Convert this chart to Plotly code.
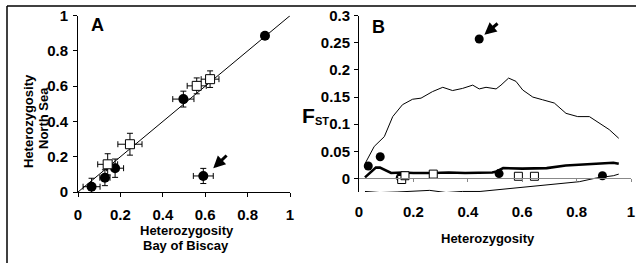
import plotly.graph_objects as go

# ---------------- Panel A data ----------------
a_circle_x = [0.064, 0.127, 0.175, 0.497, 0.591, 0.882]
a_circle_y = [0.030, 0.081, 0.135, 0.527, 0.091, 0.886]
a_circle_xerr = [0.040, 0.024, 0.040, 0.050, 0.047, 0.012]
a_circle_yerr = [0.048, 0.045, 0.052, 0.045, 0.043, 0.012]

a_square_x = [0.140, 0.245, 0.560, 0.623]
a_square_y = [0.157, 0.271, 0.602, 0.640]
a_square_xerr = [0.047, 0.057, 0.045, 0.042]
a_square_yerr = [0.060, 0.062, 0.045, 0.047]

diag_x = [0, 1]
diag_y = [0, 1]

# ---------------- Panel B data ----------------
upper_x = [0.023, 0.056, 0.093, 0.124, 0.160, 0.197, 0.228, 0.270, 0.308, 0.344,
           0.381, 0.418, 0.442, 0.467, 0.504, 0.522, 0.550, 0.577, 0.602, 0.639,
           0.675, 0.718, 0.761, 0.804, 0.847, 0.883, 0.920, 0.955]
upper_y = [0.028, 0.059, 0.077, 0.114, 0.136, 0.146, 0.148, 0.160, 0.168, 0.162,
           0.166, 0.172, 0.165, 0.168, 0.165, 0.172, 0.185, 0.179, 0.163, 0.150,
           0.145, 0.139, 0.120, 0.114, 0.114, 0.102, 0.090, 0.074]

median_x = [0.022, 0.040, 0.062, 0.077, 0.090, 0.118, 0.160, 0.200, 0.270, 0.330,
            0.390, 0.445, 0.490, 0.506, 0.530, 0.600, 0.690, 0.760, 0.850, 0.935, 0.955]
median_y = [0.002, 0.010, 0.020, 0.020, 0.017, 0.010, 0.011, 0.010, 0.010, 0.011,
            0.010, 0.011, 0.011, 0.013, 0.019, 0.018, 0.019, 0.024, 0.027, 0.029, 0.027]

lower_x = [0.022, 0.077, 0.140, 0.200, 0.260, 0.320, 0.380, 0.445, 0.506, 0.567,
           0.630, 0.690, 0.750, 0.810, 0.874, 0.935, 0.955]
lower_y = [-0.024, -0.026, -0.025, -0.024, -0.022, -0.026, -0.024, -0.024, -0.021, -0.018,
           -0.015, -0.012, -0.010, -0.006, 0.001, 0.005, 0.008]

b_circle_x = [0.034, 0.078, 0.152, 0.442, 0.515, 0.895]
b_circle_y = [0.023, 0.040, 0.002, 0.257, 0.009, 0.005]

b_square_x = [0.157, 0.169, 0.273, 0.586, 0.645]
b_square_y = [-0.002, 0.005, 0.008, 0.004, 0.004]

tick_a = [0, 0.2, 0.4, 0.6, 0.8, 1]
tick_a_text = ["0", "0.2", "0.4", "0.6", "0.8", "1"]
tick_b_y = [0, 0.05, 0.1, 0.15, 0.2, 0.25, 0.3]
tick_b_y_text = ["0", "0.05", "0.1", "0.15", "0.2", "0.25", "0.3"]

FONT = "Liberation Sans, Arial, sans-serif"
W, H = 636, 263

def px_x(p):
    return p / W

def px_y(p):
    return 1 - p / H

fig = go.Figure()

# Panel A
fig.add_trace(go.Scatter(x=diag_x, y=diag_y, mode="lines",
                         line=dict(color="black", width=1), xaxis="x", yaxis="y",
                         showlegend=False, hoverinfo="skip"))
fig.add_trace(go.Scatter(x=a_circle_x, y=a_circle_y, mode="markers",
                         marker=dict(symbol="circle", size=10, color="black"),
                         error_x=dict(type="data", array=a_circle_xerr, color="black", thickness=1, width=3),
                         error_y=dict(type="data", array=a_circle_yerr, color="black", thickness=1, width=3),
                         xaxis="x", yaxis="y", showlegend=False))
fig.add_trace(go.Scatter(x=a_square_x, y=a_square_y, mode="markers",
                         marker=dict(symbol="square", size=9, color="white",
                                     line=dict(color="black", width=1)),
                         error_x=dict(type="data", array=a_square_xerr, color="black", thickness=1, width=3),
                         error_y=dict(type="data", array=a_square_yerr, color="black", thickness=1, width=3),
                         xaxis="x", yaxis="y", showlegend=False))

# Panel B
fig.add_trace(go.Scatter(x=[], y=[], xaxis="x3", yaxis="y2", showlegend=False))
fig.add_trace(go.Scatter(x=upper_x, y=upper_y, mode="lines",
                         line=dict(color="black", width=1), xaxis="x2", yaxis="y2",
                         showlegend=False))
fig.add_trace(go.Scatter(x=lower_x, y=lower_y, mode="lines",
                         line=dict(color="black", width=1), xaxis="x2", yaxis="y2",
                         showlegend=False))
fig.add_trace(go.Scatter(x=median_x, y=median_y, mode="lines",
                         line=dict(color="black", width=2.6), xaxis="x2", yaxis="y2",
                         showlegend=False))
fig.add_trace(go.Scatter(x=b_circle_x, y=b_circle_y, mode="markers",
                         marker=dict(symbol="circle", size=9, color="black"),
                         xaxis="x2", yaxis="y2", showlegend=False))
fig.add_trace(go.Scatter(x=b_square_x, y=b_square_y, mode="markers",
                         marker=dict(symbol="square", size=8, color="white",
                                     line=dict(color="black", width=1)),
                         xaxis="x2", yaxis="y2", showlegend=False))

xa_dom = [px_x(78), px_x(290)]
xb_dom = [px_x(359), px_x(631)]
y_dom = [px_y(192), px_y(15.7)]
yb_range = [-0.025, 0.3]
zero_pos = y_dom[0] + (0 - yb_range[0]) / (yb_range[1] - yb_range[0]) * (y_dom[1] - y_dom[0])

tickfont = dict(family=FONT, size=15, color="black", weight="bold")

axis_common = dict(showgrid=False, zeroline=False, showline=True, linecolor="black",
                   linewidth=1, ticks="outside", ticklen=4, tickcolor="black",
                   tickfont=tickfont, automargin=False)

fig.update_layout(
    template="none",
    width=W, height=H,
    margin=dict(l=0, r=0, t=0, b=0, pad=0),
    paper_bgcolor="white", plot_bgcolor="rgba(0,0,0,0)",
    font=dict(family=FONT, color="black"),
    xaxis=dict(domain=xa_dom, range=[0, 1], anchor="y", tickvals=tick_a,
               ticktext=tick_a_text, ticklabelstandoff=5, **axis_common),
    yaxis=dict(domain=y_dom, range=[0, 1], anchor="x", tickvals=tick_a,
               ticktext=tick_a_text, ticklabelstandoff=2, **axis_common),
    xaxis2=dict(domain=xb_dom, range=[0, 1], anchor="y2", tickvals=tick_a,
                ticktext=tick_a_text, showgrid=False, zeroline=False, showline=False,
                ticks="", tickfont=tickfont, ticklabelstandoff=9, automargin=False),
    xaxis3=dict(domain=xb_dom, range=[0, 1], overlaying="x2", anchor="free",
                position=zero_pos, side="bottom", showgrid=False, zeroline=False,
                showline=True, linecolor="#888888", linewidth=1, ticks="outside",
                ticklen=3, tickcolor="#888888", tickvals=[0.2, 0.4, 0.6, 0.8, 1.0],
                showticklabels=False, automargin=False),
    yaxis2=dict(domain=y_dom, range=yb_range, anchor="x2", tickvals=tick_b_y,
                ticktext=tick_b_y_text, ticklabelstandoff=1, **axis_common),
)

ann = []
title_font = dict(family=FONT, size=13, color="black", weight="bold")
# Panel A titles
ann.append(dict(text="Heterozygosity", x=px_x(187), y=px_y(230), xref="paper", yref="paper",
                showarrow=False, font=title_font, xanchor="center", yanchor="middle"))
ann.append(dict(text="Bay of Biscay", x=px_x(186), y=px_y(245), xref="paper", yref="paper",
                showarrow=False, font=title_font, xanchor="center", yanchor="middle"))
ann.append(dict(text="Heterozygosity", x=px_x(28), y=px_y(121), xref="paper", yref="paper",
                showarrow=False, font=title_font, textangle=-90, xanchor="center", yanchor="middle"))
ann.append(dict(text="North Sea", x=px_x(43), y=px_y(118), xref="paper", yref="paper",
                showarrow=False, font=title_font, textangle=-90, xanchor="center", yanchor="middle"))
# Panel B titles
ann.append(dict(text="Heterozygosity", x=px_x(488), y=px_y(238), xref="paper", yref="paper",
                showarrow=False, font=title_font, xanchor="center", yanchor="middle"))
ann.append(dict(text="F", x=px_x(300), y=px_y(115), xref="paper", yref="paper",
                showarrow=False, font=dict(family=FONT, size=21, color="black", weight="bold"),
                xanchor="left", yanchor="middle"))
ann.append(dict(text="ST", x=px_x(313), y=px_y(121), xref="paper", yref="paper",
                showarrow=False, font=dict(family=FONT, size=11, color="black", weight="bold"),
                xanchor="left", yanchor="middle"))
# Panel letters
ann.append(dict(text="A", x=px_x(97), y=px_y(25), xref="paper", yref="paper",
                showarrow=False, font=dict(family=FONT, size=18, color="black", weight="bold"),
                xanchor="center", yanchor="middle"))
ann.append(dict(text="B", x=px_x(378), y=px_y(27), xref="paper", yref="paper",
                showarrow=False, font=dict(family=FONT, size=18, color="black", weight="bold"),
                xanchor="center", yanchor="middle"))
# Arrows
ann.append(dict(x=0.638, y=0.135, ax=0.708, ay=0.215, xref="x", yref="y", axref="x", ayref="y",
                showarrow=True, arrowhead=2, arrowsize=0.8, arrowwidth=3, arrowcolor="black",
                text="", standoff=0, startstandoff=0))
ann.append(dict(x=0.461, y=0.265, ax=0.515, ay=0.288, xref="x2", yref="y2", axref="x2", ayref="y2",
                showarrow=True, arrowhead=2, arrowsize=0.8, arrowwidth=3, arrowcolor="black",
                text="", standoff=0, startstandoff=0))
fig.update_layout(annotations=ann)

# Outer frame
fig.update_layout(shapes=[
    dict(type="line", xref="paper", yref="paper", x0=px_x(7), x1=1.0, y0=px_y(6), y1=px_y(6),
         line=dict(color="black", width=1.5)),
    dict(type="line", xref="paper", yref="paper", x0=px_x(7), x1=px_x(7), y0=px_y(6), y1=0,
         line=dict(color="black", width=1.5)),
])

fig.write_html("out.html", config={"displayModeBar": False},
               post_script="document.body.style.margin='0px';document.body.style.overflow='hidden';")
